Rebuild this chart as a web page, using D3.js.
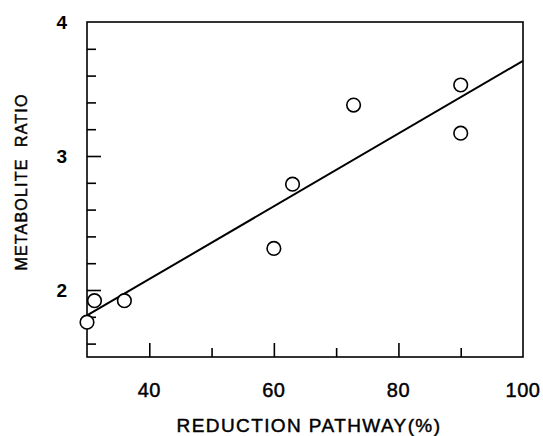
<!DOCTYPE html>
<html lang="en">
<head>
    <meta charset="UTF-8">
    <title>Metabolite ratio</title>
    <script src="https://cdn.jsdelivr.net/npm/d3@7"></script>
    <style>
        body{ margin:0; background:#fff }
        text{ font-family:"Liberation Sans", Arial, sans-serif; fill:#000 }
        .heavy{ stroke:#000; stroke-width:0.45px }
    </style>
</head>
<body>
    <svg id="container" width="543" height="436"></svg>
</body>
<script>
    let pathway=[30, 31.2, 36, 60, 63, 72.8, 90, 90]
    let ratio=[1.76, 1.92, 1.92, 2.31, 2.79, 3.38, 3.53, 3.17]
    let fitX=[30, 100]
    let fitY=[1.81, 3.71]
    let xTicks=[40, 60, 80, 100]
    let yTicks=[2, 3, 4]

    let svg=d3.select("#container")
    let mLeft=87, mTop=22, mRight=523, mBottom=357

    let x=d3.scaleLinear().domain([30,100]).range([mLeft,mRight])
    let y=d3.scaleLinear().domain([1.5,4]).range([mBottom,mTop])

    // frame
    svg.append("rect")
        .attr("x",mLeft).attr("y",mTop)
        .attr("width",mRight-mLeft).attr("height",mBottom-mTop)
        .attr("fill","none").attr("stroke","black").attr("stroke-width",1.6)

    // x ticks, inward, every 10 with labels every 20
    let xaxis=d3.axisBottom(x).tickValues(d3.range(40,100,10))
        .tickSize(0).tickFormat("")
    svg.append("g").attr("transform",`translate(0,${mBottom})`).call(xaxis)
        .call(g=>g.select(".domain").remove())
        .selectAll(".tick").append("line")
        .attr("y2",d=>d%20==0 ? -14 : -9)
        .attr("stroke","black").attr("stroke-width",1.6)

    svg.selectAll(".xlab").data(xTicks).enter().append("text")
        .attr("class","xlab heavy")
        .attr("x",d=>x(d)).attr("y",397)
        .attr("text-anchor","middle")
        .attr("font-size",20)
        .attr("letter-spacing",0.5)
        .text(d=>d)

    // y ticks every 0.2, longer at integers
    let yt=d3.range(1.6,4,0.2).map(d=>+d.toFixed(1))
    let yaxis=d3.axisLeft(y).tickValues(yt).tickSize(0).tickFormat("")
    svg.append("g").attr("transform",`translate(${mLeft},0)`).call(yaxis)
        .call(g=>g.select(".domain").remove())
        .selectAll(".tick").append("line")
        .attr("x2",d=>Math.abs(d-Math.round(d))<0.01 ? 14 : 9)
        .attr("stroke","black").attr("stroke-width",1.6)

    svg.selectAll(".ylab").data(yTicks).enter().append("text")
        .attr("class","ylab")
        .attr("x",67).attr("y",d=>y(d)+6.5)
        .attr("text-anchor","end")
        .attr("font-size",19)
        .attr("font-weight","bold")
        .text(d=>d)

    // regression line
    let line=d3.line().x(d=>x(d[0])).y(d=>y(d[1]))
    svg.append("path")
        .attr("d",line(d3.zip(fitX,fitY)))
        .attr("fill","none").attr("stroke","black").attr("stroke-width",2)

    // points
    svg.selectAll("circle").data(d3.zip(pathway,ratio)).enter().append("circle")
        .attr("cx",d=>x(d[0])).attr("cy",d=>y(d[1]))
        .attr("r",6.8)
        .attr("fill","white").attr("stroke","black").attr("stroke-width",1.6)

    // titles
    svg.append("text")
        .attr("class","heavy")
        .attr("x",309).attr("y",432)
        .attr("text-anchor","middle")
        .attr("font-size",19)
        .attr("letter-spacing",1.4)
        .text("REDUCTION PATHWAY(%)")

    svg.append("text")
        .attr("class","heavy")
        .attr("transform","translate(27,182) rotate(-90)")
        .attr("text-anchor","middle")
        .attr("font-size",16)
        .attr("letter-spacing",1.2)
        .style("white-space","pre")
        .text("METABOLITE  RATIO")
</script>
</html>
